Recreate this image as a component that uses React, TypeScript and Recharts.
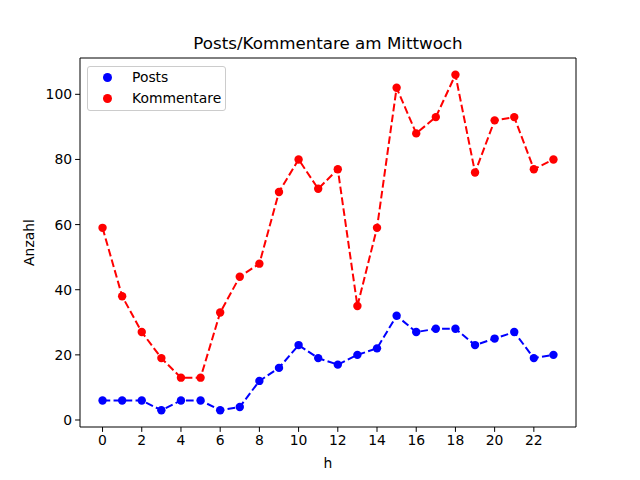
import React from 'react';
import { LineChart, Line, XAxis, YAxis, ReferenceArea } from 'recharts';

const hours = [0,1,2,3,4,5,6,7,8,9,10,11,12,13,14,15,16,17,18,19,20,21,22,23];
const posts = [6,6,6,3,6,6,3,4,12,16,23,19,17,20,22,32,27,28,28,23,25,27,19,20];
const kommentare = [59,38,27,19,13,13,33,44,48,70,80,71,77,35,59,102,88,93,106,76,92,93,77,80];
const xTicks = [0,2,4,6,8,10,12,14,16,18,20,22];
const yTicks = [0,20,40,60,80,100];
const seriesNames = ['Posts', 'Kommentare'];
const seriesColors = ['#0000ff', '#ff0000'];
const title = 'Posts/Kommentare am Mittwoch';

const data = hours.map((h, i) => ({ h, posts: posts[i], kommentare: kommentare[i] }));

const FONT = 'DejaVu Sans, sans-serif';
const X_DOMAIN: [number, number] = [-1.15, 24.15];
const Y_DOMAIN: [number, number] = [-2.15, 111.15];

const dot = (color: string) => ({ r: 4.2, fill: color, stroke: color, strokeWidth: 0 });

export default function App() {
  return (
    <div style={{ position: 'absolute', left: 0, top: 0, width: 640, height: 480, background: '#fff', fontFamily: FONT }}>
      <LineChart width={640} height={480} data={data} margin={{ top: 58, right: 64, bottom: 0, left: 0 }}>
        <ReferenceArea x1={X_DOMAIN[0]} x2={X_DOMAIN[1]} y1={Y_DOMAIN[0]} y2={Y_DOMAIN[1]} fill="none" stroke="#000" strokeWidth={1} fillOpacity={0} ifOverflow="visible" />
        <XAxis
          dataKey="h"
          type="number"
          domain={X_DOMAIN}
          ticks={xTicks}
          allowDataOverflow
          height={53}
          axisLine={false}
          tickLine={{ stroke: '#000' }}
          tickSize={4.9}
          tickMargin={3}
          tick={{ fill: '#000', fontSize: 13.9, fontFamily: FONT }}
          interval={0}
          label={{ value: 'h', position: 'insideBottom', offset: 12, fill: '#000', fontSize: 13.9, fontFamily: FONT }}
        />
        <YAxis
          type="number"
          domain={Y_DOMAIN}
          ticks={yTicks}
          allowDataOverflow
          width={80}
          axisLine={false}
          tickLine={{ stroke: '#000' }}
          tickSize={4.9}
          tickMargin={3}
          tick={{ fill: '#000', fontSize: 13.9, fontFamily: FONT }}
          interval={0}
          label={{ value: 'Anzahl', angle: -90, position: 'insideLeft', offset: 29, fill: '#000', fontSize: 13.9, fontFamily: FONT, style: { textAnchor: 'middle' } }}
        />
        <Line dataKey="posts" name={seriesNames[0]} stroke={seriesColors[0]} strokeWidth={2} strokeDasharray="7.7 3.3" dot={dot(seriesColors[0])} activeDot={false} isAnimationActive={false} />
        <Line dataKey="kommentare" name={seriesNames[1]} stroke={seriesColors[1]} strokeWidth={2} strokeDasharray="7.7 3.3" dot={dot(seriesColors[1])} activeDot={false} isAnimationActive={false} />
      </LineChart>
      <div style={{ position: 'absolute', left: 80, width: 496, top: 33, textAlign: 'center', fontSize: 16.7, color: '#000', lineHeight: '20px' }}>{title}</div>
      <div style={{ position: 'absolute', left: 87, top: 66, width: 139, height: 45, boxSizing: 'border-box', border: '1px solid #cccccc', borderRadius: 3, background: 'rgba(255,255,255,0.8)' }}>
        {seriesNames.map((n, i) => (
          <div key={n} style={{ position: 'absolute', left: 0, top: 0 + i * 21, height: 20, display: 'flex', alignItems: 'center' }}>
            <span style={{ display: 'inline-block', width: 9, height: 9, borderRadius: '50%', background: seriesColors[i], marginLeft: 15 }} />
            <span style={{ marginLeft: 20, fontSize: 13.9, color: '#000' }}>{n}</span>
          </div>
        ))}
      </div>
    </div>
  );
}
